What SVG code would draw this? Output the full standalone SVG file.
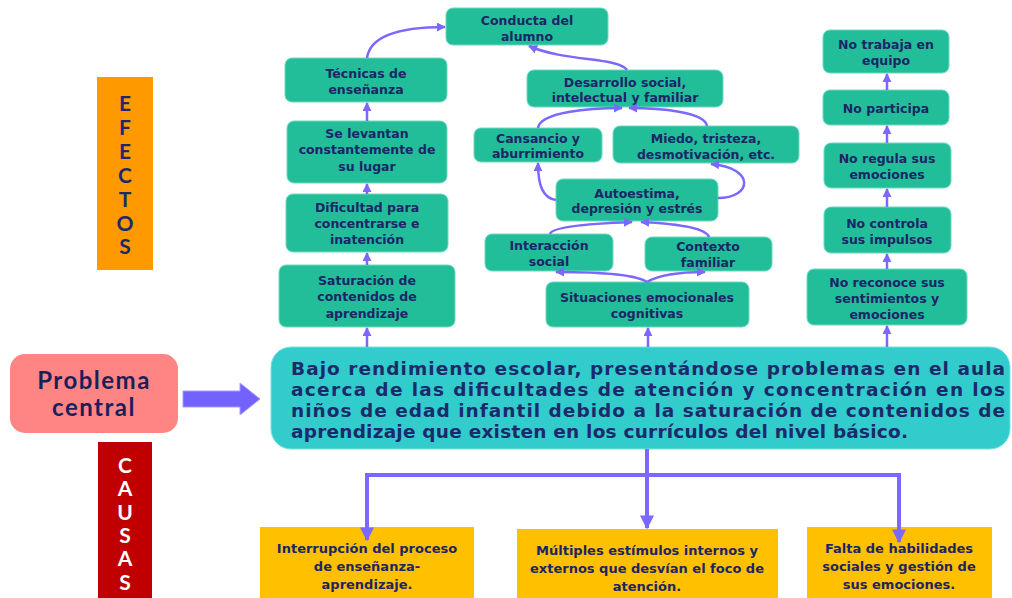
<svg xmlns="http://www.w3.org/2000/svg" width="1012" height="598" viewBox="0 0 1012 598">
<defs>
<style>
.n rect{fill:#21BE99;stroke:#6FD9BE;stroke-width:1}
.c rect{fill:#FFC000}
.t{font-family:"DejaVu Sans",Verdana,sans-serif;font-weight:bold;font-size:12.5px;fill:#1C2566;text-anchor:middle}
.tc{font-family:"DejaVu Sans",Verdana,sans-serif;font-weight:bold;font-size:13px;fill:#1C2566;text-anchor:middle}
.m{font-family:"DejaVu Sans",Verdana,sans-serif;font-weight:bold;font-size:18.5px;fill:#1A2A6B}
.lt{font-family:"Comic Sans MS","Lato",sans-serif;font-weight:bold;font-size:21px;text-anchor:middle}
.e{fill:none;stroke:#7B68FF;stroke-width:2.5}
.ek{fill:none;stroke:#7B68FF;stroke-width:4}
</style>
<marker id="ah" viewBox="0 0 10 10" refX="9" refY="5" markerWidth="9" markerHeight="9" markerUnits="userSpaceOnUse" orient="auto">
<path d="M0,0 L10,5 L0,10 z" fill="#7B68FF"/>
</marker>
<marker id="ahb" viewBox="0 0 10 10" refX="9" refY="5" markerWidth="14" markerHeight="16" markerUnits="userSpaceOnUse" orient="auto">
<path d="M0,0 L10,5 L0,10 z" fill="#7B68FF"/>
</marker>
</defs>

<g id="efectos">
<rect x="97" y="77" width="56" height="193" fill="#FF9900"/>
<g class="lt" fill="#1A2A6B">
<text x="125" y="111">E</text><text x="125" y="135">F</text><text x="125" y="159">E</text><text x="125" y="183">C</text><text x="125" y="207">T</text><text x="125" y="231">O</text><text x="125" y="254">S</text>
</g>
</g>

<g id="causas">
<rect x="98" y="442" width="54" height="160" fill="#C00000"/>
<g class="lt" fill="#FFFFFF">
<text x="125" y="473">C</text><text x="125" y="496">A</text><text x="125" y="520">U</text><text x="125" y="543">S</text><text x="125" y="566">A</text><text x="125" y="590">S</text>
</g>
</g>

<g id="problema">
<rect x="10" y="354" width="168" height="79" rx="15" fill="#FF8585"/>
<text class="lt" x="94" y="389" fill="#1A1F5C" style="font-size:24px;letter-spacing:1.5px">Problema</text>
<text class="lt" x="94" y="416" fill="#1A1F5C" style="font-size:24px;letter-spacing:1.5px">central</text>
</g>

<g id="flecha">
<path d="M183,391 L240,391 L240,383 L260,399 L240,415 L240,407 L183,407 z" fill="#7462FF" stroke="#A99BFF" stroke-width="1"/>
</g>

<g id="principal">
<rect x="271" y="347" width="739" height="102" rx="20" fill="#33CCCC" stroke="#7FE0E0" stroke-width="1"/>
<text class="m" x="291" y="375" textLength="714" lengthAdjust="spacing">Bajo rendimiento escolar, presentándose problemas en el aula</text>
<text class="m" x="291" y="396" textLength="714" lengthAdjust="spacing">acerca de las dificultades de atención y concentración en los</text>
<text class="m" x="291" y="417" textLength="714" lengthAdjust="spacing">niños de edad infantil debido a la saturación de contenidos de</text>
<text class="m" x="291" y="438" textLength="617" lengthAdjust="spacing">aprendizaje que existen en los currículos del nivel básico.</text>
</g>

<g id="conducta" class="n"><rect x="446" y="8" width="162" height="37" rx="7"/><text class="t" x="527" y="24.5">Conducta del</text><text class="t" x="527" y="40.5">alumno</text></g>
<g id="tecnicas" class="n"><rect x="285" y="58" width="162" height="44" rx="7"/><text class="t" x="366" y="77.5">Técnicas de</text><text class="t" x="366" y="93.5">enseñanza</text></g>
<g id="levantan" class="n"><rect x="287" y="121" width="160" height="62" rx="7"/><text class="t" x="367" y="137.5">Se levantan</text><text class="t" x="367" y="154">constantemente de</text><text class="t" x="367" y="170.5">su lugar</text></g>
<g id="dificultad" class="n"><rect x="286" y="194" width="162" height="58" rx="7"/><text class="t" x="367" y="211.5">Dificultad para</text><text class="t" x="367" y="227.5">concentrarse e</text><text class="t" x="367" y="243.5">inatención</text></g>
<g id="saturacion" class="n"><rect x="279" y="265" width="176" height="62" rx="7"/><text class="t" x="367" y="284.5">Saturación de</text><text class="t" x="367" y="301">contenidos de</text><text class="t" x="367" y="317.5">aprendizaje</text></g>

<g id="desarrollo" class="n"><rect x="527" y="70" width="196" height="37" rx="7"/><text class="t" x="625" y="86.5">Desarrollo social,</text><text class="t" x="625" y="101.5">intelectual y familiar</text></g>
<g id="cansancio" class="n"><rect x="474" y="128" width="128" height="34" rx="7"/><text class="t" x="538" y="142.5">Cansancio y</text><text class="t" x="538" y="158">aburrimiento</text></g>
<g id="miedo" class="n"><rect x="613" y="126" width="186" height="37" rx="7"/><text class="t" x="706" y="142.5">Miedo, tristeza,</text><text class="t" x="706" y="158.5">desmotivación, etc.</text></g>
<g id="autoestima" class="n"><rect x="556" y="179" width="162" height="42" rx="7"/><text class="t" x="637" y="197.5">Autoestima,</text><text class="t" x="637" y="212.5">depresión y estrés</text></g>
<g id="interaccion" class="n"><rect x="485" y="234" width="128" height="37" rx="7"/><text class="t" x="549" y="249.5">Interacción</text><text class="t" x="549" y="265.5">social</text></g>
<g id="contexto" class="n"><rect x="645" y="237" width="127" height="34" rx="7"/><text class="t" x="708" y="250.5">Contexto</text><text class="t" x="708" y="267">familiar</text></g>
<g id="situaciones" class="n"><rect x="546" y="282" width="203" height="45" rx="7"/><text class="t" x="647" y="301.5">Situaciones emocionales</text><text class="t" x="647" y="317.5">cognitivas</text></g>

<g id="equipo" class="n"><rect x="823" y="30" width="126" height="43" rx="7"/><text class="t" x="886" y="48.5">No trabaja en</text><text class="t" x="886" y="65">equipo</text></g>
<g id="participa" class="n"><rect x="823" y="90" width="126" height="35" rx="7"/><text class="t" x="886" y="112.5">No participa</text></g>
<g id="regula" class="n"><rect x="824" y="143" width="127" height="45" rx="7"/><text class="t" x="887" y="162.5">No regula sus</text><text class="t" x="887" y="178.5">emociones</text></g>
<g id="controla" class="n"><rect x="824" y="207" width="127" height="46" rx="7"/><text class="t" x="887" y="227.5">No controla</text><text class="t" x="887" y="243.5">sus impulsos</text></g>
<g id="reconoce" class="n"><rect x="807" y="269" width="160" height="56" rx="7"/><text class="t" x="887" y="286.5">No reconoce sus</text><text class="t" x="887" y="302.5">sentimientos y</text><text class="t" x="887" y="318.5">emociones</text></g>

<g id="interrupcion" class="c"><rect x="260" y="527" width="214" height="75"/><text class="tc" x="367" y="553">Interrupción del proceso</text><text class="tc" x="367" y="571">de enseñanza-</text><text class="tc" x="367" y="589">aprendizaje.</text></g>
<g id="multiples" class="c"><rect x="517" y="529" width="261" height="73"/><text class="tc" x="647" y="555">Múltiples estímulos internos y</text><text class="tc" x="647" y="573">externos que desvían el foco de</text><text class="tc" x="647" y="591">atención.</text></g>
<g id="falta" class="c"><rect x="807" y="527" width="185" height="75"/><text class="tc" x="899" y="553">Falta de habilidades</text><text class="tc" x="899" y="571">sociales y gestión de</text><text class="tc" x="899" y="589">sus emociones.</text></g>

<g id="conectores">
<path class="e" d="M367,347 L367,328" marker-end="url(#ah)"/>
<path class="e" d="M367,265 L367,253" marker-end="url(#ah)"/>
<path class="e" d="M367,194 L367,184" marker-end="url(#ah)"/>
<path class="e" d="M367,121 L367,103" marker-end="url(#ah)"/>
<path class="e" d="M367,58 C370,36 400,27 445,27" marker-end="url(#ah)"/>
<path class="e" d="M627,70 C618,57 565,62 529,46" marker-end="url(#ah)"/>

<path class="e" d="M648,347 L648,328" marker-end="url(#ah)"/>
<path class="e" d="M647,282 Q632,272 556,272" marker-end="url(#ah)"/>
<path class="e" d="M647,282 Q664,272 705,272" marker-end="url(#ah)"/>
<path class="e" d="M550,234 Q552,225 632,222" marker-end="url(#ah)"/>
<path class="e" d="M709,237 Q705,225 641,222" marker-end="url(#ah)"/>
<path class="e" d="M556,200 C543,198 538,186 538,163" marker-end="url(#ah)"/>
<path class="e" d="M718,198 C752,198 756,168 711,164" marker-end="url(#ah)"/>
<path class="e" d="M538,128 C540,112 590,108 622,108" marker-end="url(#ah)"/>
<path class="e" d="M707,126 C705,112 660,108 629,108" marker-end="url(#ah)"/>

<path class="e" d="M887,347 L887,326" marker-end="url(#ah)"/>
<path class="e" d="M887,269 L887,254" marker-end="url(#ah)"/>
<path class="e" d="M887,207 L887,189" marker-end="url(#ah)"/>
<path class="e" d="M887,143 L887,126" marker-end="url(#ah)"/>
<path class="e" d="M887,90 L887,74" marker-end="url(#ah)"/>

<path class="ek" d="M647,449 L647,528" marker-end="url(#ahb)"/>
<path class="ek" d="M647,475 L367,475 L367,540" marker-end="url(#ahb)"/>
<path class="ek" d="M647,475 L899,475 L899,542" marker-end="url(#ahb)"/>
</g>
</svg>
